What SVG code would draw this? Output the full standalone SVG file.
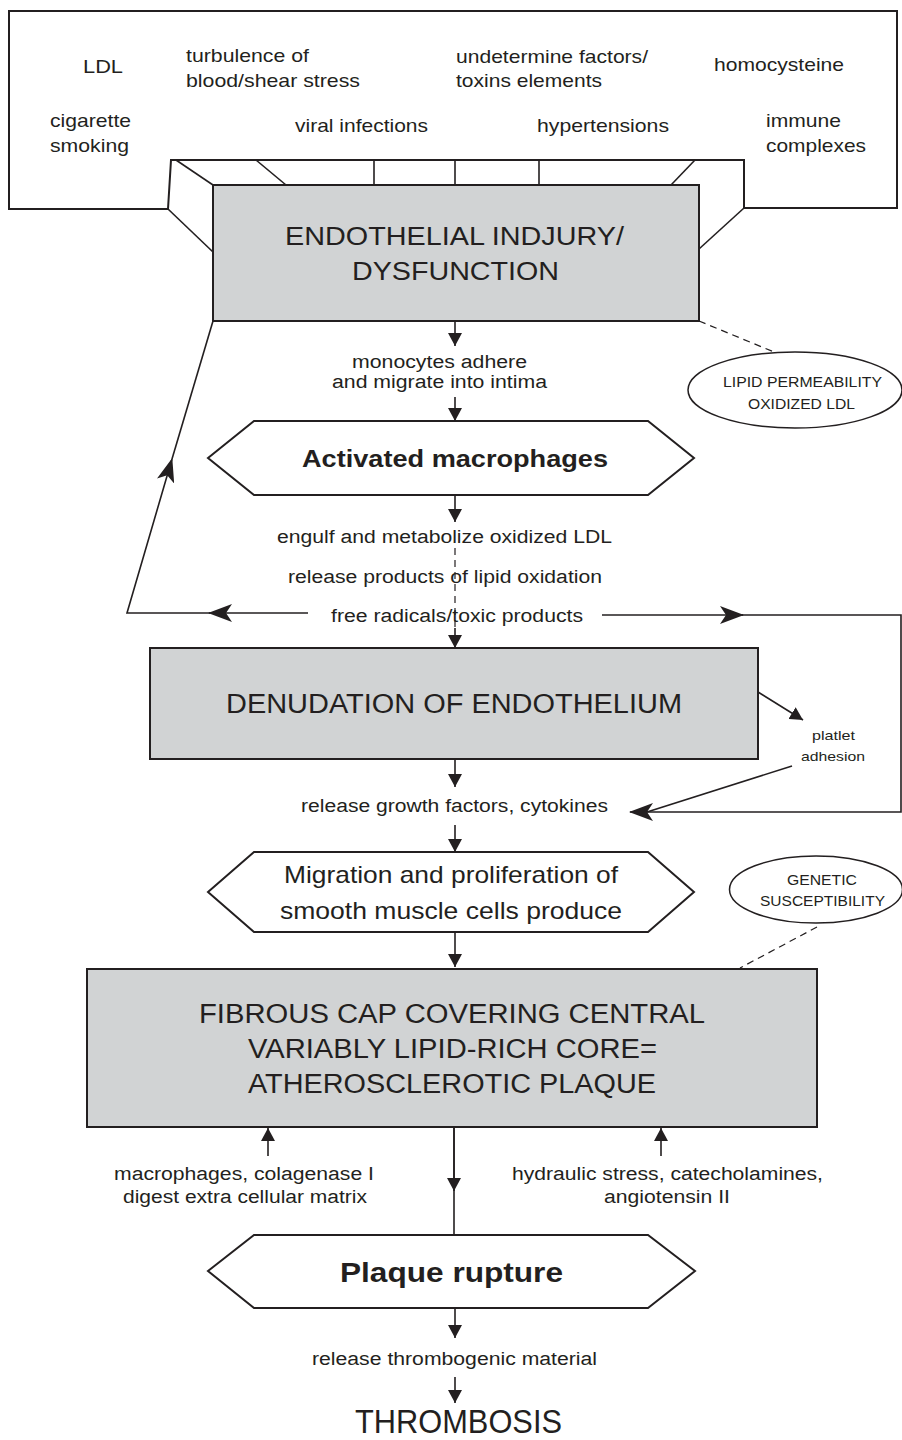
<svg xmlns="http://www.w3.org/2000/svg" width="902" height="1440" viewBox="0 0 902 1440">
<style>
text{font-family:"Liberation Sans",Arial,Helvetica,sans-serif;fill:#231f20;}
.t19{font-size:19px;}
.t18{font-size:18px;}
.t15{font-size:15.5px;}
.t13{font-size:13.5px;}
.big{font-size:26.5px;}
.b{font-weight:bold;}
.box{fill:#d1d3d4;stroke:#231f20;stroke-width:2;}
.shape{fill:#ffffff;stroke:#231f20;stroke-width:2;}
.ell{fill:#ffffff;stroke:#231f20;stroke-width:1.5;}
.ln{fill:none;stroke:#231f20;stroke-width:1.6;}
.dash{fill:none;stroke:#231f20;stroke-width:1.2;stroke-dasharray:7 5;}
.arr{marker-end:url(#tri);}
.st{marker-end:url(#stealth);}
</style>
<defs>
<marker id="tri" viewBox="0 0 13 14" markerWidth="13" markerHeight="14" refX="13" refY="7" orient="auto" markerUnits="userSpaceOnUse">
<path d="M0,0 L13,7 L0,14 Z" fill="#231f20"/>
</marker>
<marker id="stealth" viewBox="0 0 24 18" markerWidth="24" markerHeight="18" refX="23" refY="9" orient="auto" markerUnits="userSpaceOnUse">
<path d="M0,0 L24,9 L0,18 L6,9 Z" fill="#231f20"/>
</marker>
</defs>
<rect width="902" height="1440" fill="#ffffff"/>

<g id="risk-factors">
<path class="shape" d="M9,11 H897 V208 H744 V160 H171 L168,209 H9 Z"/>
<g class="ln">
<line x1="168" y1="209" x2="213" y2="252"/>
<line x1="744" y1="208" x2="699" y2="249"/>
<line x1="176" y1="160" x2="213" y2="185"/>
<line x1="256" y1="160" x2="286" y2="185"/>
<line x1="374" y1="160" x2="374" y2="185"/>
<line x1="455" y1="160" x2="455" y2="185"/>
<line x1="539" y1="160" x2="539" y2="185"/>
<line x1="695" y1="160" x2="671" y2="185"/>
</g>
<text class="t19" x="83" y="73" textLength="40" lengthAdjust="spacingAndGlyphs">LDL</text>
<text class="t19" x="186" y="62" textLength="123" lengthAdjust="spacingAndGlyphs">turbulence of</text>
<text class="t19" x="186" y="87" textLength="174" lengthAdjust="spacingAndGlyphs">blood/shear stress</text>
<text class="t19" x="50" y="127" textLength="81" lengthAdjust="spacingAndGlyphs">cigarette</text>
<text class="t19" x="50" y="152" textLength="79" lengthAdjust="spacingAndGlyphs">smoking</text>
<text class="t19" x="295" y="132" textLength="133" lengthAdjust="spacingAndGlyphs">viral infections</text>
<text class="t19" x="456" y="63" textLength="192" lengthAdjust="spacingAndGlyphs">undetermine factors/</text>
<text class="t19" x="456" y="87" textLength="146" lengthAdjust="spacingAndGlyphs">toxins elements</text>
<text class="t19" x="537" y="132" textLength="132" lengthAdjust="spacingAndGlyphs">hypertensions</text>
<text class="t19" x="714" y="71" textLength="130" lengthAdjust="spacingAndGlyphs">homocysteine</text>
<text class="t19" x="766" y="127" textLength="75" lengthAdjust="spacingAndGlyphs">immune</text>
<text class="t19" x="766" y="152" textLength="100" lengthAdjust="spacingAndGlyphs">complexes</text>
</g>

<g id="endothelial-injury">
<rect class="box" x="213" y="185" width="486" height="136"/>
<text class="big" x="285" y="245" textLength="339" lengthAdjust="spacingAndGlyphs">ENDOTHELIAL INDJURY/</text>
<text class="big" x="352" y="280" textLength="207" lengthAdjust="spacingAndGlyphs">DYSFUNCTION</text>
</g>

<g id="lipid-permeability">
<ellipse class="ell" cx="795" cy="390" rx="107" ry="38"/>
<text class="t15" x="723" y="387" textLength="159" lengthAdjust="spacingAndGlyphs">LIPID PERMEABILITY</text>
<text class="t15" x="748" y="409" textLength="107" lengthAdjust="spacingAndGlyphs">OXIDIZED LDL</text>
</g>

<g id="activated-macrophages">
<polygon class="shape" points="208,458 254,421 648,421 694,458 648,495 254,495"/>
<text class="b" style="font-size:24px" x="302" y="467" textLength="306" lengthAdjust="spacingAndGlyphs">Activated macrophages</text>
</g>

<g id="denudation">
<rect class="box" x="150" y="648" width="608" height="111"/>
<text style="font-size:27px" x="226" y="713" textLength="456" lengthAdjust="spacingAndGlyphs">DENUDATION OF ENDOTHELIUM</text>
</g>

<g id="platelet-adhesion">
<text class="t13" x="812" y="740" textLength="43" lengthAdjust="spacingAndGlyphs">platlet</text>
<text class="t13" x="801" y="761" textLength="64" lengthAdjust="spacingAndGlyphs">adhesion</text>
</g>

<g id="migration">
<polygon class="shape" points="208,892 254,852 648,852 694,892 648,932 254,932"/>
<text style="font-size:24px" x="284" y="883" textLength="334" lengthAdjust="spacingAndGlyphs">Migration and proliferation of</text>
<text style="font-size:24px" x="280" y="919" textLength="342" lengthAdjust="spacingAndGlyphs">smooth muscle cells produce</text>
</g>

<g id="genetic-susceptibility">
<ellipse class="ell" cx="816" cy="889.5" rx="86.5" ry="33.5"/>
<text class="t15" x="787" y="885" textLength="70" lengthAdjust="spacingAndGlyphs">GENETIC</text>
<text class="t15" x="760" y="906" textLength="125" lengthAdjust="spacingAndGlyphs">SUSCEPTIBILITY</text>
</g>

<g id="plaque">
<rect class="box" x="87" y="969" width="730" height="158"/>
<text style="font-size:27px" x="199" y="1023" textLength="506" lengthAdjust="spacingAndGlyphs">FIBROUS CAP COVERING CENTRAL</text>
<text style="font-size:27px" x="248" y="1058" textLength="409" lengthAdjust="spacingAndGlyphs">VARIABLY LIPID-RICH CORE=</text>
<text style="font-size:27px" x="248" y="1093" textLength="408" lengthAdjust="spacingAndGlyphs">ATHEROSCLEROTIC PLAQUE</text>
</g>

<g id="plaque-rupture">
<polygon class="shape" points="208,1271 254,1235 648,1235 695,1271 648,1308 254,1308"/>
<text class="b" style="font-size:28px" x="340" y="1282" textLength="223" lengthAdjust="spacingAndGlyphs">Plaque rupture</text>
</g>

<g id="thrombosis">
<text style="font-size:32.5px" x="355" y="1433" textLength="207" lengthAdjust="spacingAndGlyphs">THROMBOSIS</text>
</g>

<g id="connectors">
<line class="ln arr" x1="455" y1="321" x2="455" y2="346"/>
<text class="t18" x="352" y="368" textLength="175" lengthAdjust="spacingAndGlyphs">monocytes adhere</text>
<text class="t18" x="332" y="388" textLength="215" lengthAdjust="spacingAndGlyphs">and migrate into intima</text>
<line class="ln arr" x1="455" y1="397" x2="455" y2="421"/>
<line class="ln arr" x1="455" y1="495" x2="455" y2="522"/>
<line class="dash" x1="455" y1="548" x2="455" y2="630"/>
<text class="t18" x="277" y="543" textLength="335" lengthAdjust="spacingAndGlyphs">engulf and metabolize oxidized LDL</text>
<text class="t18" x="288" y="583" textLength="314" lengthAdjust="spacingAndGlyphs">release products of lipid oxidation</text>
<text class="t18" x="331" y="622" textLength="252" lengthAdjust="spacingAndGlyphs">free radicals/toxic products</text>
<line class="ln arr" x1="455" y1="628" x2="455" y2="648"/>
<line class="ln arr" x1="455" y1="759" x2="455" y2="787"/>
<text class="t18" x="301" y="812" textLength="307" lengthAdjust="spacingAndGlyphs">release growth factors, cytokines</text>
<line class="ln arr" x1="455" y1="825" x2="455" y2="852"/>
<line class="ln arr" x1="455" y1="932" x2="455" y2="967"/>
<line class="ln" x1="454" y1="1127" x2="454" y2="1235"/>
<line class="ln arr" x1="454" y1="1127" x2="454" y2="1191"/>
<line class="ln arr" x1="268" y1="1156" x2="268" y2="1128"/>
<line class="ln arr" x1="661" y1="1156" x2="661" y2="1128"/>
<text class="t18" x="114" y="1180" textLength="260" lengthAdjust="spacingAndGlyphs">macrophages, colagenase I</text>
<text class="t18" x="123" y="1203" textLength="244" lengthAdjust="spacingAndGlyphs">digest extra cellular matrix</text>
<text class="t18" x="512" y="1180" textLength="311" lengthAdjust="spacingAndGlyphs">hydraulic stress, catecholamines,</text>
<text class="t18" x="604" y="1203" textLength="126" lengthAdjust="spacingAndGlyphs">angiotensin II</text>
<line class="ln arr" x1="455" y1="1308" x2="455" y2="1338"/>
<text class="t18" x="312" y="1365" textLength="285" lengthAdjust="spacingAndGlyphs">release thrombogenic material</text>
<line class="ln arr" x1="455" y1="1377" x2="455" y2="1403"/>
<path class="ln st" d="M308,613 H209"/>
<path class="ln st" d="M210,613 H127 L172,459"/>
<path class="ln" d="M172,459 L213,321"/>
<path class="ln st" d="M602,615 H743"/>
<path class="ln st" d="M742,615 H901 V812 H630"/>
<path class="ln" d="M792,766 L647,812"/>
<line class="ln arr" x1="758" y1="692" x2="803" y2="720"/>
<line class="dash" x1="699" y1="321" x2="774" y2="352"/>
<line class="dash" x1="817" y1="927" x2="740" y2="968"/>
</g>
</svg>
